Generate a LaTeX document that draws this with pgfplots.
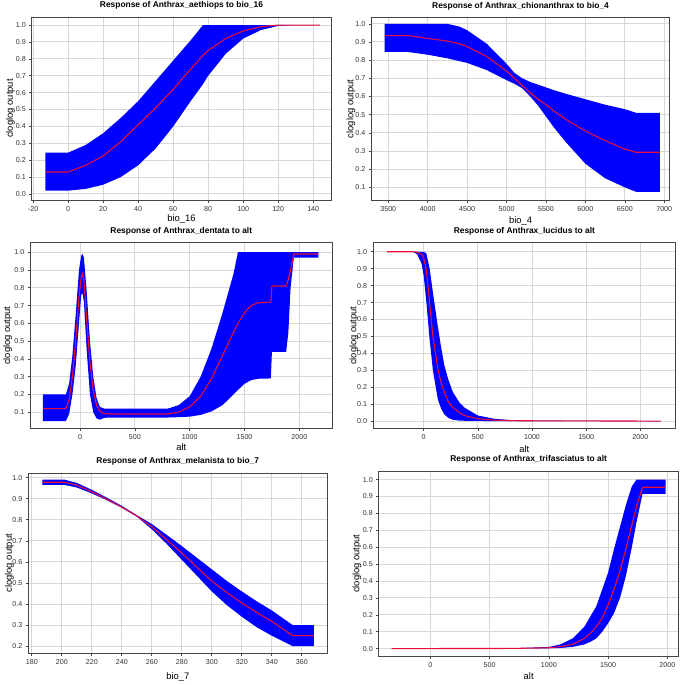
\documentclass[border=0pt]{standalone}
\usepackage{pgfplots}
\pgfplotsset{compat=1.18}
\usepackage{pgfplotstable}
\usepgfplotslibrary{fillbetween}
\usepackage{fontspec}
\setmainfont{Liberation Sans}
\definecolor{band}{RGB}{0,0,255}
\definecolor{mline}{RGB}{230,15,60}
\definecolor{gridc}{RGB}{215,215,215}
\definecolor{axc}{RGB}{70,70,70}
\definecolor{tlc}{RGB}{50,50,50}

\pgfplotstableread{
x lo mid hi
-13 0.02 0.13 0.245
0 0.02 0.13 0.245
10 0.03 0.17 0.29
20 0.055 0.225 0.36
30 0.10 0.31 0.45
40 0.17 0.41 0.55
50 0.27 0.51 0.67
60 0.40 0.62 0.79
70 0.55 0.74 0.91
77 0.65 0.82 1.0
80 0.70 0.85 1.0
90 0.83 0.92 1.0
100 0.92 0.965 1.0
110 0.97 0.99 1.0
120 0.995 1.0 1.0
130 1.0 1.0 1.0
144 1.0 1.0 1.0
}\tA

\pgfplotstableread{
x lo mid hi
3455 0.845 0.935 1.0
3750 0.845 0.935 1.0
4000 0.83 0.92 1.0
4250 0.81 0.905 1.0
4400 0.795 0.89 0.985
4500 0.785 0.875 0.965
4750 0.745 0.82 0.89
5000 0.69 0.74 0.78
5100 0.67 0.70 0.73
5200 0.645 0.66 0.70
5300 0.60 0.62 0.68
5400 0.55 0.585 0.665
5500 0.49 0.555 0.65
5600 0.43 0.52 0.635
5750 0.35 0.475 0.615
6000 0.23 0.41 0.585
6250 0.15 0.357 0.555
6500 0.10 0.31 0.53
6645 0.075 0.293 0.51
6946 0.075 0.293 0.51
}\tB

\pgfplotstableread{
x lo mid hi
-340 0.05 0.12 0.20
-130 0.05 0.12 0.20
-100 0.09 0.17 0.26
-70 0.20 0.30 0.42
-40 0.36 0.50 0.65
-10 0.60 0.75 0.90
10 0.76 0.86 0.98
21 0.77 0.88 0.99
35 0.72 0.84 0.97
60 0.45 0.62 0.78
90 0.20 0.38 0.50
120 0.10 0.22 0.30
150 0.065 0.14 0.18
180 0.058 0.105 0.13
220 0.068 0.092 0.12
260 0.07 0.09 0.12
800 0.07 0.09 0.12
900 0.072 0.10 0.14
1000 0.075 0.13 0.19
1100 0.085 0.19 0.30
1200 0.105 0.29 0.46
1300 0.14 0.42 0.66
1400 0.20 0.55 0.88
1440 0.225 0.60 1.00
1500 0.26 0.66 1.00
1560 0.28 0.70 1.00
1620 0.288 0.715 1.00
1740 0.29 0.72 1.00
1750 0.44 0.81 1.00
1880 0.44 0.81 1.00
1900 0.55 0.85 1.00
1920 0.80 0.90 1.00
1950 0.97 0.99 1.00
2174 0.97 0.99 1.00
}\tC

\pgfplotstableread{
x lo mid hi
-340 1.0 1.0 1.0
-100 1.0 1.0 1.0
-60 0.985 0.998 1.0
-20 0.93 0.985 1.0
0 0.86 0.965 1.0
25 0.70 0.89 0.99
55 0.48 0.70 0.90
85 0.30 0.50 0.76
130 0.13 0.31 0.56
160 0.075 0.23 0.44
190 0.04 0.17 0.33
230 0.018 0.11 0.24
270 0.008 0.08 0.17
330 0.003 0.05 0.11
375 0.002 0.033 0.08
500 0.001 0.014 0.033
650 0 0.006 0.014
800 0 0.003 0.006
900 0 0.002 0.003
2190 0 0 0
}\tD

\pgfplotstableread{
x lo mid hi
187 0.965 0.978 0.99
202 0.965 0.978 0.99
210 0.953 0.965 0.975
220 0.925 0.933 0.942
230 0.893 0.898 0.905
240 0.857 0.86 0.866
250 0.815 0.818 0.822
260 0.755 0.767 0.78
270 0.685 0.705 0.728
280 0.61 0.642 0.675
290 0.535 0.575 0.62
300 0.46 0.509 0.565
310 0.395 0.455 0.51
320 0.34 0.405 0.46
330 0.29 0.36 0.413
340 0.25 0.318 0.37
354 0.20 0.25 0.30
368 0.20 0.25 0.30
}\tE

\pgfplotstableread{
x lo mid hi
-326 0 0 0
700 0 0.001 0.002
1000 0.002 0.005 0.01
1100 0.004 0.012 0.025
1200 0.01 0.025 0.06
1300 0.025 0.06 0.13
1350 0.04 0.09 0.19
1400 0.06 0.13 0.25
1450 0.10 0.18 0.35
1500 0.15 0.26 0.45
1550 0.21 0.35 0.59
1600 0.30 0.46 0.72
1650 0.43 0.59 0.85
1700 0.60 0.73 0.96
1740 0.75 0.84 1.0
1790 0.915 0.955 1.0
1986 0.915 0.955 1.0
}\tF

\pgfplotsset{
  resp/.style={
    scale only axis, anchor=south west,
    grid=major,
    major grid style={draw=gridc, line width=1pt},
    axis line style={draw=axc, line width=0.9pt},
    tick style={draw=axc, line width=0.6pt},
    major tick length=2.5pt, tick align=outside,
    xtick pos=bottom, ytick pos=left,
    ticklabel style={font=\fontsize{7.2}{8}\selectfont, text=tlc},
    /pgf/number format/assume math mode=true,
    /pgf/number format/1000 sep={},
    scaled ticks=false,
    yticklabel style={/pgf/number format/fixed, /pgf/number format/fixed zerofill, /pgf/number format/precision=1},
    title style={font=\bfseries\fontsize{8.5}{10}\selectfont, inner sep=1.5pt},
    xlabel style={font=\fontsize{9.5}{11}\selectfont, at={(axis description cs:0.5,0)}, anchor=center},
    ylabel style={font=\fontsize{9.5}{11}\selectfont, anchor=center},
    ylabel={cloglog output},
  },
  bandhi/.style={draw=none, name path=upper},
  bandlo/.style={draw=none, name path=lower},
  meanline/.style={draw=mline, line width=1.1pt},
}

\begin{document}
\begin{tikzpicture}

% Panel 1
\begin{axis}[resp, at={(29.5pt,-197pt)}, width=302.5pt, height=185pt,
  xmin=-20.8, xmax=150.3, ymin=-0.036, ymax=1.048,
  xtick={-20,0,20,40,60,80,100,120,140},
  ytick={0,0.1,0.2,0.3,0.4,0.5,0.6,0.7,0.8,0.9,1.0},
  title={Response of Anthrax\_aethiops to bio\_16},
  xlabel={bio\_16}, xlabel style={yshift=-19pt},
  ylabel style={at={(axis description cs:-0.071,0.5)}}]
\addplot[bandhi] table[x=x,y=hi]{\tA};
\addplot[bandlo] table[x=x,y=lo]{\tA};
\addplot[fill=band, draw=none] fill between[of=upper and lower];
\addplot[meanline] table[x=x,y=mid]{\tA};
\end{axis}

% Panel 2
\begin{axis}[resp, at={(372.5pt,-197pt)}, width=301.5pt, height=184.3pt,
  xmin=3285, xmax=7070, ymin=0.03, ymax=1.034,
  xtick={3500,4000,4500,5000,5500,6000,6500,7000},
  ytick={0.1,0.2,0.3,0.4,0.5,0.6,0.7,0.8,0.9,1.0},
  title={Response of Anthrax\_chionanthrax to bio\_4},
  xlabel={bio\_4}, xlabel style={yshift=-21pt},
  ylabel style={at={(axis description cs:-0.068,0.5)}}]
\addplot[bandhi] table[x=x,y=hi]{\tB};
\addplot[bandlo] table[x=x,y=lo]{\tB};
\addplot[fill=band, draw=none] fill between[of=upper and lower];
\addplot[meanline] table[x=x,y=mid]{\tB};
\end{axis}

% Panel 3
\begin{axis}[resp, at={(28pt,-428pt)}, width=305pt, height=188pt,
  xmin=-454, xmax=2300, ymin=0.007, ymax=1.054,
  xtick={0,500,1000,1500,2000},
  ytick={0.1,0.2,0.3,0.4,0.5,0.6,0.7,0.8,0.9,1.0},
  title={Response of Anthrax\_dentata to alt},
  xlabel={alt}, xlabel style={yshift=-19pt},
  ylabel style={at={(axis description cs:-0.075,0.5)}}]
\addplot[bandhi] table[x=x,y=hi]{\tC};
\addplot[bandlo] table[x=x,y=lo]{\tC};
\addplot[fill=band, draw=none] fill between[of=upper and lower];
\addplot[meanline] table[x=x,y=mid]{\tC};
\end{axis}

% Panel 4
\begin{axis}[resp, at={(374.3pt,-428pt)}, width=305.7pt, height=188pt,
  xmin=-467, xmax=2326, ymin=-0.045, ymax=1.054,
  xtick={0,500,1000,1500,2000},
  ytick={0,0.1,0.2,0.3,0.4,0.5,0.6,0.7,0.8,0.9,1.0},
  title={Response of Anthrax\_lucidus to alt},
  xlabel={alt}, xlabel style={yshift=-21pt},
  ylabel style={at={(axis description cs:-0.063,0.5)}}]
\addplot[bandhi] table[x=x,y=hi]{\tD};
\addplot[bandlo] table[x=x,y=lo]{\tD};
\addplot[fill=band, draw=none] fill between[of=upper and lower];
\addplot[meanline] table[x=x,y=mid]{\tD};
\end{axis}

% Panel 5
\begin{axis}[resp, at={(26pt,-655.2pt)}, width=302pt, height=182.5pt,
  xmin=177.7, xmax=377, ymin=0.165, ymax=1.022,
  xtick={180,200,220,240,260,280,300,320,340,360},
  ytick={0.2,0.3,0.4,0.5,0.6,0.7,0.8,0.9,1.0},
  title={Response of Anthrax\_melanista to bio\_7},
  xlabel={bio\_7}, xlabel style={yshift=-24pt},
  ylabel style={at={(axis description cs:-0.063,0.5)}}]
\addplot[bandhi] table[x=x,y=hi]{\tE};
\addplot[bandlo] table[x=x,y=lo]{\tE};
\addplot[fill=band, draw=none] fill between[of=upper and lower];
\addplot[meanline] table[x=x,y=mid]{\tE};
\end{axis}

% Panel 6
\begin{axis}[resp, at={(380pt,-658pt)}, width=303pt, height=187.3pt,
  xmin=-435, xmax=2095, ymin=-0.046, ymax=1.051,
  xtick={0,500,1000,1500,2000},
  ytick={0,0.1,0.2,0.3,0.4,0.5,0.6,0.7,0.8,0.9,1.0},
  title={Response of Anthrax\_trifasciatus to alt},
  xlabel={alt}, xlabel style={yshift=-20pt},
  ylabel style={at={(axis description cs:-0.073,0.5)}}]
\addplot[bandhi] table[x=x,y=hi]{\tF};
\addplot[bandlo] table[x=x,y=lo]{\tF};
\addplot[fill=band, draw=none] fill between[of=upper and lower];
\addplot[meanline] table[x=x,y=mid]{\tF};
\end{axis}

\path (0pt,0pt) rectangle (685pt,-685pt);
\end{tikzpicture}
\end{document}
